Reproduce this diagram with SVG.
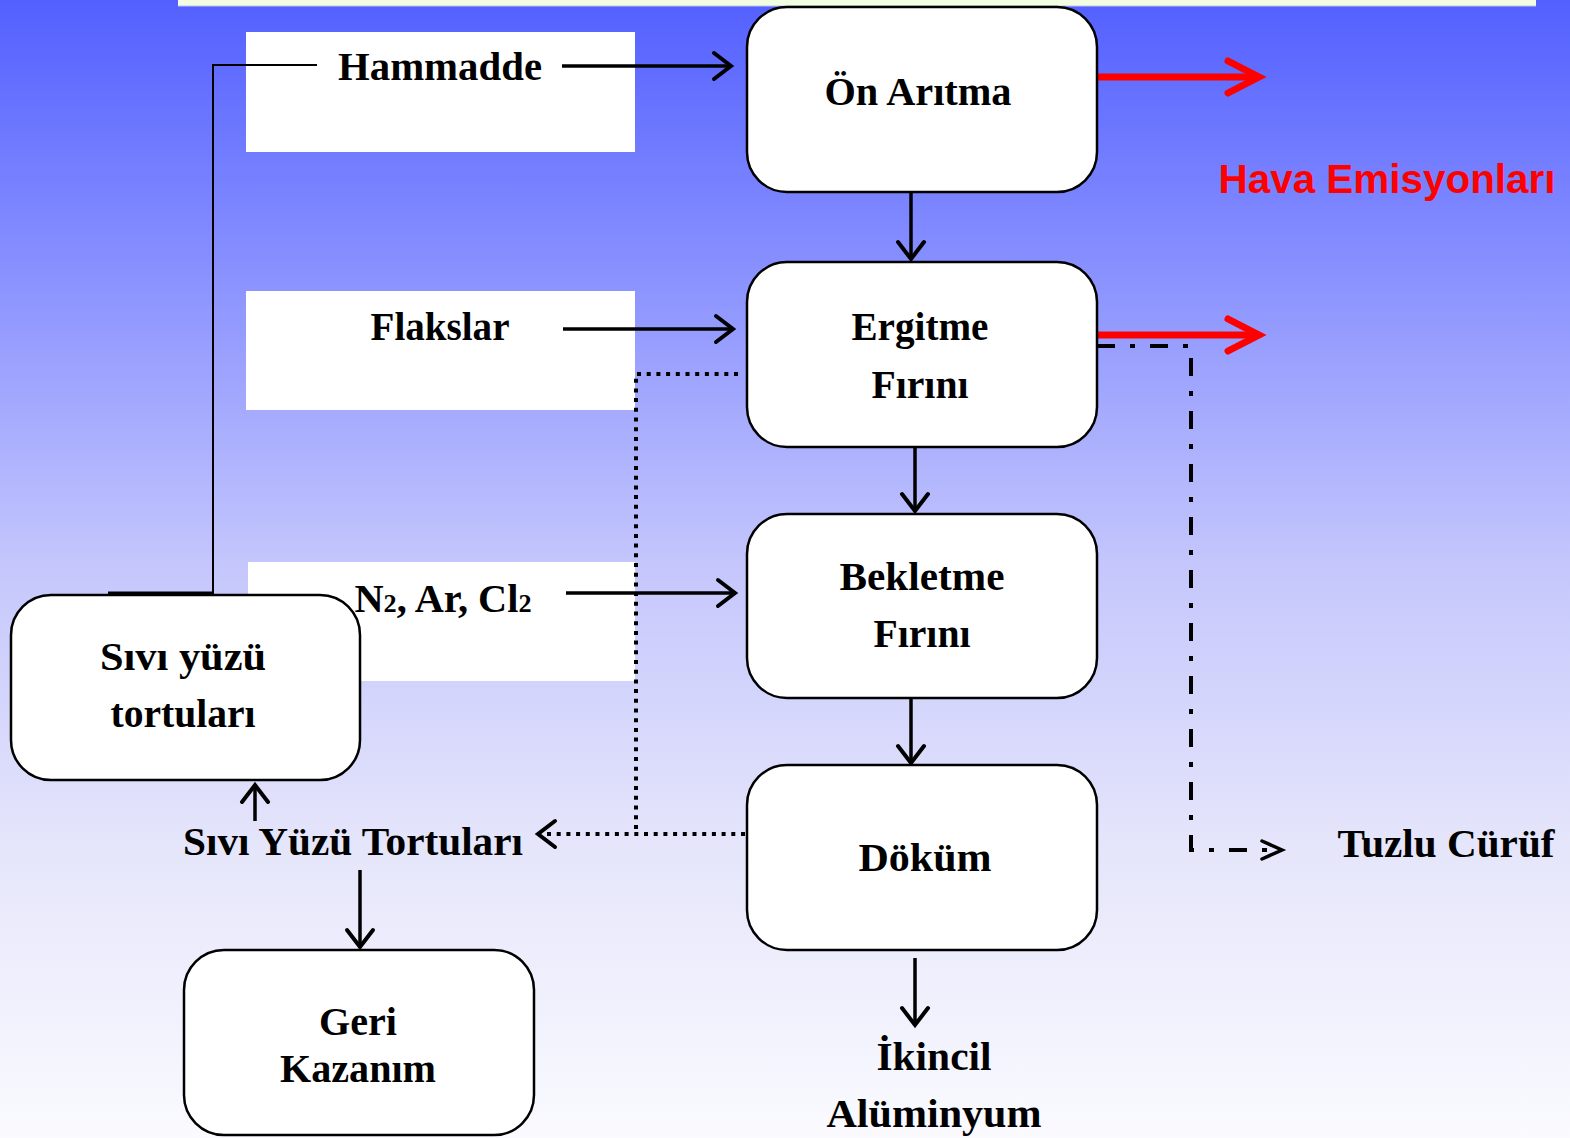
<svg xmlns="http://www.w3.org/2000/svg" width="1570" height="1138" viewBox="0 0 1570 1138">
<defs>
<linearGradient id="bg" x1="0" y1="0" x2="0" y2="1">
<stop offset="0" stop-color="#5360ff"/>
<stop offset="0.2" stop-color="#8089ff"/>
<stop offset="0.5" stop-color="#c5c7fc"/>
<stop offset="0.75" stop-color="#e6e6fb"/>
<stop offset="1" stop-color="#fafaff"/>
</linearGradient>
<marker id="ah" markerUnits="userSpaceOnUse" markerWidth="24" markerHeight="32" refX="19" refY="14" orient="auto" overflow="visible">
<path d="M2,1 L19,14 L2,27" fill="none" stroke="#000" stroke-width="4" stroke-linecap="round" stroke-linejoin="miter"/>
</marker>
<marker id="rh" markerUnits="userSpaceOnUse" markerWidth="40" markerHeight="40" refX="34" refY="18" orient="auto" overflow="visible">
<path d="M3,2 L34,18 L3,34" fill="none" stroke="#ff0000" stroke-width="7" stroke-linecap="round"/>
</marker>
<marker id="sh" markerUnits="userSpaceOnUse" markerWidth="24" markerHeight="24" refX="22" refY="10" orient="auto" overflow="visible">
<path d="M2,1 L22,10 L2,19" fill="none" stroke="#000" stroke-width="3.5" stroke-linecap="round"/>
</marker>
</defs>
<style>
.box{fill:#fff;stroke:#000;stroke-width:2.5}
.wr{fill:#fff}
.t{font-family:"Liberation Serif","Times New Roman",serif;font-weight:bold;font-size:40px;fill:#000;text-anchor:middle}
.ln{fill:none;stroke:#000;stroke-width:3.5}
.thin{fill:none;stroke:#000;stroke-width:2}
.red{fill:none;stroke:#ff0000;stroke-width:7}
.dot{fill:none;stroke:#000;stroke-width:4;stroke-dasharray:4 5.7}
.dd{fill:none;stroke:#000;stroke-width:4;stroke-dasharray:18 15 5 15}
</style>
<rect x="0" y="0" width="1570" height="1138" fill="url(#bg)"/>
<rect x="178" y="0" width="1358" height="6" fill="#f2fde2"/>
<line x1="178" y1="6" x2="1536" y2="6" stroke="#b9c4f0" stroke-width="1"/>

<g id="label-hammadde">
<rect class="wr" x="246" y="32" width="389" height="120"/>
<text class="t" x="440" y="80" textLength="204" lengthAdjust="spacingAndGlyphs">Hammadde</text>
</g>
<g id="label-flakslar">
<rect class="wr" x="246" y="291" width="389" height="119"/>
<text class="t" x="440" y="340" textLength="139" lengthAdjust="spacingAndGlyphs">Flakslar</text>
</g>
<g id="label-gases">
<rect class="wr" x="248" y="562" width="387" height="119"/>
<text class="t" x="443" y="612" textLength="177" lengthAdjust="spacingAndGlyphs">N<tspan font-size="26">2</tspan>, Ar, Cl<tspan font-size="26">2</tspan></text>
</g>

<g id="connectors">
<polyline class="thin" points="213,593 213,65 317,65"/>
<line x1="108" y1="593" x2="214" y2="593" stroke="#000" stroke-width="3"/>
<line class="ln" x1="562" y1="66" x2="731" y2="66" marker-end="url(#ah)"/>
<line class="ln" x1="563" y1="329" x2="733" y2="329" marker-end="url(#ah)"/>
<line class="ln" x1="566" y1="593" x2="735" y2="593" marker-end="url(#ah)"/>
<line class="ln" x1="911" y1="192" x2="911" y2="259" marker-end="url(#ah)"/>
<line class="ln" x1="915" y1="447" x2="915" y2="511" marker-end="url(#ah)"/>
<line class="ln" x1="911" y1="698" x2="911" y2="763" marker-end="url(#ah)"/>
<line class="ln" x1="915" y1="958" x2="915" y2="1025" marker-end="url(#ah)"/>
<line class="ln" x1="255" y1="821" x2="255" y2="785" marker-end="url(#ah)"/>
<line class="ln" x1="360" y1="870" x2="360" y2="947" marker-end="url(#ah)"/>
<line class="red" x1="1097" y1="77" x2="1259" y2="77" marker-end="url(#rh)"/>
<line class="red" x1="1097" y1="335" x2="1259" y2="335" marker-end="url(#rh)"/>
<polyline class="dd" points="1097,346 1191,346 1191,850 1282,850" marker-end="url(#sh)"/>
<polyline class="dot" points="738,374 636,374 636,833"/>
<polyline class="dot" points="745,834 538,834" marker-end="url(#ah)"/>
</g>

<g id="node-on-aritma">
<rect class="box" x="747" y="7" width="350" height="185" rx="40"/>
<text class="t" x="918" y="105" textLength="187" lengthAdjust="spacingAndGlyphs">Ön Arıtma</text>
</g>
<g id="node-ergitme">
<rect class="box" x="747" y="262" width="350" height="185" rx="40"/>
<text class="t" x="920" y="340" textLength="137" lengthAdjust="spacingAndGlyphs">Ergitme</text>
<text class="t" x="920" y="398" textLength="97" lengthAdjust="spacingAndGlyphs">Fırını</text>
</g>
<g id="node-bekletme">
<rect class="box" x="747" y="514" width="350" height="184" rx="40"/>
<text class="t" x="922" y="590" textLength="165" lengthAdjust="spacingAndGlyphs">Bekletme</text>
<text class="t" x="922" y="647" textLength="97" lengthAdjust="spacingAndGlyphs">Fırını</text>
</g>
<g id="node-dokum">
<rect class="box" x="747" y="765" width="350" height="185" rx="40"/>
<text class="t" x="925" y="871" textLength="133" lengthAdjust="spacingAndGlyphs">Döküm</text>
</g>
<g id="node-sivi-box">
<rect class="box" x="11" y="595" width="349" height="185" rx="40"/>
<text class="t" x="183" y="670" textLength="166" lengthAdjust="spacingAndGlyphs">Sıvı yüzü</text>
<text class="t" x="183" y="727" textLength="145" lengthAdjust="spacingAndGlyphs">tortuları</text>
</g>
<g id="node-geri">
<rect class="box" x="184" y="950" width="350" height="185" rx="40"/>
<text class="t" x="358" y="1035" textLength="78" lengthAdjust="spacingAndGlyphs">Geri</text>
<text class="t" x="358" y="1082" textLength="156" lengthAdjust="spacingAndGlyphs">Kazanım</text>
</g>
<g id="label-sivi">
<text class="t" x="353" y="855" textLength="340" lengthAdjust="spacingAndGlyphs">Sıvı Yüzü Tortuları</text>
</g>
<g id="label-ikincil">
<text class="t" x="934" y="1070" textLength="115" lengthAdjust="spacingAndGlyphs">İkincil</text>
<text class="t" x="934" y="1127" textLength="215" lengthAdjust="spacingAndGlyphs">Alüminyum</text>
</g>
<g id="label-tuzlu">
<text class="t" x="1446" y="857" textLength="217" lengthAdjust="spacingAndGlyphs">Tuzlu Cürüf</text>
</g>
<g id="label-hava">
<text x="1387" y="193" text-anchor="middle" font-family="'Liberation Sans',Arial,sans-serif" font-weight="bold" font-size="40" fill="#ff0000" textLength="337" lengthAdjust="spacingAndGlyphs">Hava Emisyonları</text>
</g>
</svg>
